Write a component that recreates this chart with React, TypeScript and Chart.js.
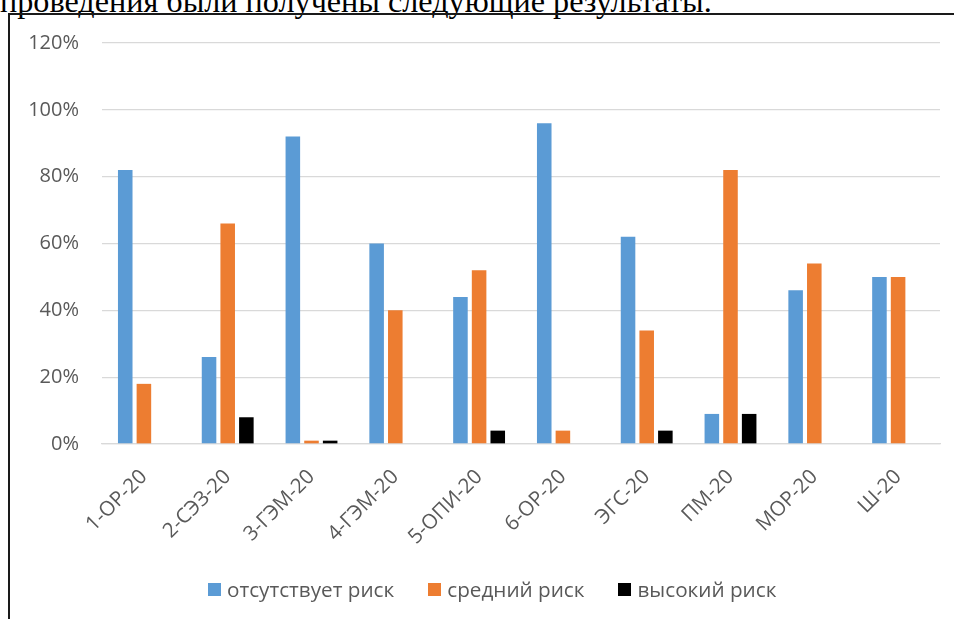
import React, { useEffect, useRef } from "react";
import { Chart, registerables } from "chart.js";

Chart.register(...registerables);

const categories = ["1-ОР-20", "2-СЭЗ-20", "3-ГЭМ-20", "4-ГЭМ-20", "5-ОПИ-20", "6-ОР-20", "ЭГС-20", "ПМ-20", "МОР-20", "Ш-20"];
const noRisk = [82, 26, 92, 60, 44, 96, 62, 9, 46, 50];
const midRisk = [18, 66, 1, 40, 52, 4, 34, 82, 54, 50];
const highRisk = [0, 8, 1, 0, 4, 0, 4, 9, 0, 0];
const seriesNames = ["отсутствует риск", "средний риск", "высокий риск"];
const seriesColors = ["#5B9BD5", "#ED7D31", "#000000"];
const yMax = 120;
const yStep = 20;
const caption = "проведения были получены следующие результаты.";

const FONT = "'Open Sans', 'Noto Sans', 'Liberation Sans', sans-serif";
const TEXT_COLOR = "#595959";
const GRID_COLOR = "#D9D9D9";

export default function App() {
  const canvasRef = useRef<HTMLCanvasElement | null>(null);

  useEffect(() => {
    if (!canvasRef.current) return;
    const seriesData = [noRisk, midRisk, highRisk];
    const chart = new Chart(canvasRef.current, {
      type: "bar",
      data: {
        labels: categories,
        datasets: seriesNames.map((name, i) => ({
          label: name,
          data: seriesData[i],
          backgroundColor: seriesColors[i],
          borderWidth: 0,
          categoryPercentage: 0.668,
          barPercentage: 0.78,
        })),
      },
      options: {
        animation: false,
        responsive: false,
        devicePixelRatio: 1,
        layout: { padding: { left: 22, right: 14, top: 43, bottom: 65 } },
        plugins: {
          legend: { display: false },
          tooltip: { enabled: false },
        },
        scales: {
          x: {
            grid: { display: false, drawTicks: false },
            border: { display: true, color: GRID_COLOR, width: 1.3 },
            ticks: {
              autoSkip: false,
              minRotation: 45,
              maxRotation: 45,
              color: TEXT_COLOR,
              font: { family: FONT, size: 20.5 },
              padding: 21,
            },
            afterFit: (s: any) => {
              s.height = 110;
            },
          },
          y: {
            min: 0,
            max: yMax,
            grid: { color: GRID_COLOR, lineWidth: 1.3, drawTicks: false },
            border: { display: false },
            ticks: {
              stepSize: yStep,
              color: TEXT_COLOR,
              font: { family: FONT, size: 20 },
              padding: 23,
              callback: (v: any) => v + "%",
            },
            afterFit: (s: any) => {
              s.width = 80;
            },
          },
        },
      },
    });
    return () => chart.destroy();
  }, []);

  return (
    <div
      style={{
        position: "fixed",
        left: 0,
        top: 0,
        width: 954,
        height: 619,
        overflow: "hidden",
        background: "#ffffff",
      }}
    >
      <div
        style={{
          position: "absolute",
          left: 0,
          top: -17,
          font: "32.2px 'Liberation Serif', 'Times New Roman', serif",
          lineHeight: "36px",
          whiteSpace: "nowrap",
          color: "#000",
        }}
      >
        {caption}
      </div>
      <div
        style={{
          position: "absolute",
          left: 8,
          top: 13,
          width: 980,
          height: 640,
          borderLeft: "2px solid #1a1a1a",
          borderTop: "2px solid #1a1a1a",
        }}
      />
      <canvas
        ref={canvasRef}
        width={954}
        height={619}
        style={{ position: "absolute", left: 0, top: 0, width: 954, height: 619 }}
      />
      <div
        style={{
          position: "absolute",
          left: 208,
          top: 579,
          height: 20,
          display: "flex",
          alignItems: "center",
          font: `20.7px ${FONT}`,
          lineHeight: "20px",
          color: TEXT_COLOR,
          whiteSpace: "nowrap",
        }}
      >
        {seriesNames.map((name, i) => (
          <div key={name} style={{ display: "flex", alignItems: "center", marginRight: 34 }}>
            <span
              style={{
                display: "inline-block",
                width: 13,
                height: 13,
                background: seriesColors[i],
                marginRight: 6,
              }}
            />
            <span>{name}</span>
          </div>
        ))}
      </div>
    </div>
  );
}
